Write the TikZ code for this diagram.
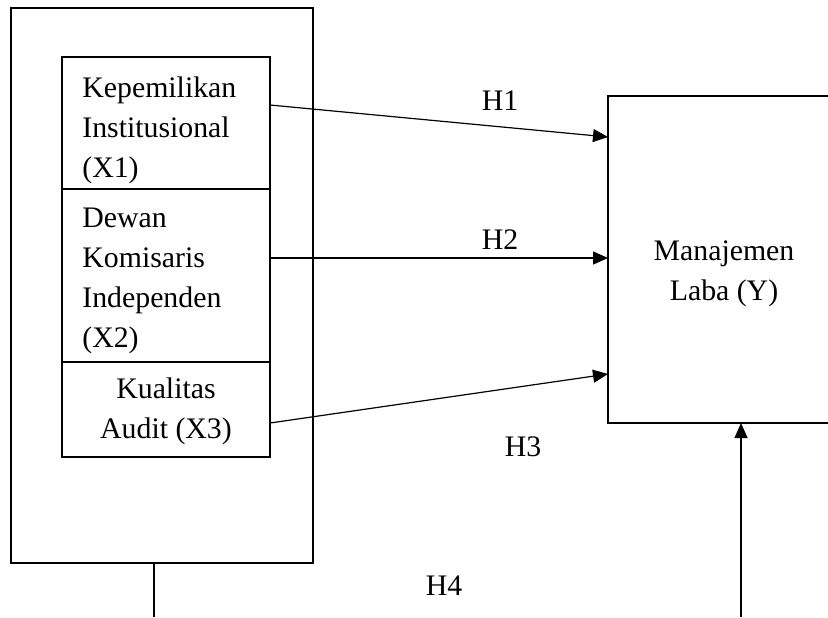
\documentclass[tikz,border=0pt]{standalone}
\usepackage{fontspec}
\setmainfont{Liberation Serif}
\usetikzlibrary{arrows.meta,calc}
\begin{document}
\begin{tikzpicture}[x=0.5pt,y=-0.5pt,
 box/.style={draw,line width=0.7pt,rectangle,inner sep=0pt,outer sep=0pt},
 txt/.style={inner sep=0pt,font=\fontsize{14.9}{20}\selectfont},
 conn/.style={line width=0.6pt},
 arr/.style={conn,-{Triangle[length=7.5pt,width=6.5pt]}},
]
\useasboundingbox (0,0) rectangle (828,617);
\clip (0,0) rectangle (828,617);
\node[box,line width=0.9pt,minimum width=151pt,minimum height=277.5pt] (outer) at (162,285.5) {};
\node[box,minimum width=104pt,minimum height=66pt] (x1) at (166,123) {};
\node[box,minimum width=104pt,minimum height=86.5pt] (x2) at (166,275.5) {};
\node[box,minimum width=104pt,minimum height=47.5pt] (x3) at (166,409.5) {};
\node[box,minimum width=116pt,minimum height=163.5pt] (y) at (724,259.5) {};
\node[txt,anchor=west,align=left] (tx1) at (82,130) {Kepemilikan\\Institusional\\(X1)};
\node[txt,anchor=west,align=left] (tx2) at (82,281) {Dewan\\Komisaris\\Independen\\(X2)};
\node[txt,align=center] (tx3) at (166,411) {Kualitas\\Audit (X3)};
\node[txt,align=center] (ty) at (724,274) {Manajemen\\Laba (Y)};
\node[txt] (h1) at (500,101) {H1};
\node[txt] (h2) at (500,240) {H2};
\node[txt] (h3) at (523,447) {H3};
\node[txt] (h4) at (444,586) {H4};
\coordinate (bot1) at (154,617);
\coordinate (bot2) at (741,617);
\draw[arr] ([yshift=9pt]x1.east) -- ([yshift=61.25pt]y.west);
\draw[arr] ([yshift=8.75pt]x2.east) -- ([yshift=0.75pt]y.west);
\draw[arr] ([yshift=-6.75pt]x3.east) -- ([yshift=-57.25pt]y.west);
\draw[conn] ([xshift=-4pt]outer.south) -- (bot1);
\draw[arr] (bot2) -- ([xshift=8.5pt]y.south);
\end{tikzpicture}
\end{document}
